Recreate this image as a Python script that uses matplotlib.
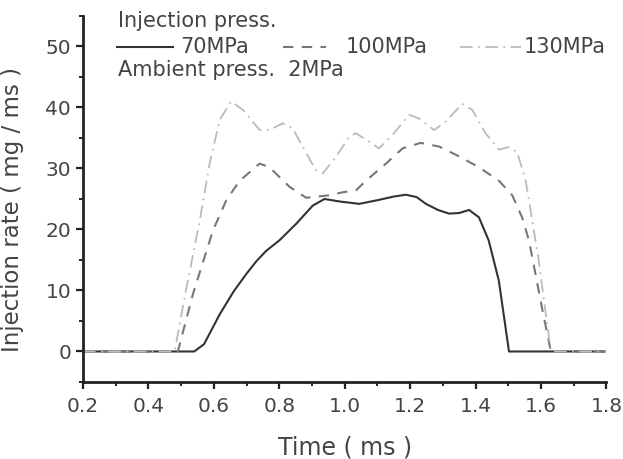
import matplotlib.pyplot as plt
import numpy as np
from matplotlib.ticker import MultipleLocator, FormatStrFormatter

plt.rcParams['font.family'] = ['DejaVu Sans']

# 70MPa (solid)
t70 = [0.2, 0.54, 0.57, 0.618, 0.66, 0.699, 0.73, 0.76, 0.80, 0.851, 0.902, 0.938, 0.983, 1.044, 1.10,
       1.15, 1.187, 1.22, 1.248, 1.285, 1.319, 1.35, 1.38, 1.41, 1.44, 1.471, 1.502, 1.8]
r70 = [0, 0, 1.2, 6.1, 9.8, 12.7, 14.8, 16.5, 18.2, 20.9, 23.9, 25.0, 24.6, 24.2, 24.8,
       25.4, 25.7, 25.3, 24.2, 23.2, 22.6, 22.7, 23.2, 22.0, 18.2, 11.6, 0.0, 0]

# 100MPa (dashed)
t100 = [0.2, 0.49, 0.536, 0.597, 0.638, 0.679, 0.74, 0.77, 0.831, 0.882, 0.953, 0.994, 1.034, 1.065,
        1.126, 1.177, 1.232, 1.288, 1.349, 1.41, 1.471, 1.512, 1.542, 1.563, 1.583, 1.603, 1.63, 1.8]
r100 = [0, 0, 9.4, 19.8, 24.8, 28.0, 30.8, 30.2, 27.0, 25.2, 25.6, 26.1, 26.4, 28.0,
        30.8, 33.3, 34.2, 33.6, 32.0, 30.2, 28.0, 25.6, 22.0, 18.2, 12.7, 7.1, 0, 0]

# 130MPa (dash-dot)
t130 = [0.2, 0.48, 0.516, 0.557, 0.587, 0.618, 0.653, 0.689, 0.74, 0.77, 0.81, 0.841, 0.872, 0.912,
        0.933, 0.973, 1.014, 1.034, 1.105, 1.146, 1.197, 1.227, 1.273, 1.309, 1.359, 1.39, 1.43,
        1.471, 1.502, 1.527, 1.553, 1.573, 1.593, 1.608, 1.63, 1.8]
r130 = [0, 0, 10.4, 21.5, 30.8, 38.0, 41.0, 39.6, 36.3, 36.3, 37.4, 36.6, 33.5, 29.7,
        29.2, 31.9, 35.2, 35.8, 33.3, 35.5, 38.8, 38.2, 36.3, 37.7, 40.6, 39.6, 35.8,
        33.1, 33.5, 32.7, 28.0, 21.5, 14.9, 8.8, 0, 0]

txt = '#444444'
fig = plt.figure(figsize=(6.23, 4.59), dpi=100)
ax = fig.add_axes([0.1332, 0.1678, 0.8403, 0.7974])

ax.plot(t70, r70, color='#333333', lw=1.5, ls='-')
ax.plot(t100, r100, color='#777777', lw=1.5, ls=(0, (5, 4)))
ax.plot(t130, r130, color='#bbbbbb', lw=1.3, ls=(0, (7, 3, 1, 3)))

ax.set_xlim(0.2, 1.8)
ax.set_ylim(-5, 55)
ax.xaxis.set_major_locator(MultipleLocator(0.2))
ax.xaxis.set_minor_locator(MultipleLocator(0.1))
ax.xaxis.set_major_formatter(FormatStrFormatter('%.1f'))
ax.set_yticks([0, 10, 20, 30, 40, 50])
ax.yaxis.set_minor_locator(MultipleLocator(5))

for s in ['top', 'right']:
    ax.spines[s].set_visible(False)
for s in ['left', 'bottom']:
    ax.spines[s].set_linewidth(2)
    ax.spines[s].set_color('#222222')

ax.tick_params(which='major', direction='out', length=5, width=1.6, colors='#222222',
               labelsize=14.5, labelcolor=txt)
ax.tick_params(axis='x', which='major', pad=6)
ax.tick_params(which='minor', direction='out', length=3, width=1.4, colors='#222222')

ax.set_xlabel('Time ( ms )', fontsize=17, color=txt, labelpad=14)
ax.set_ylabel('Injection rate ( mg / ms )', fontsize=16.5, color=txt)
ax.yaxis.set_label_coords(-0.113, 0.47)

# legend drawn as text and short line samples
ax.text(0.067, 0.971, 'Injection press.', transform=ax.transAxes, fontsize=15,
        color=txt, va='baseline', ha='left')
ax.plot([0.065, 0.172], [0.916, 0.916], transform=ax.transAxes, color='#333333', lw=1.5,
        clip_on=False)
ax.text(0.185, 0.900, '70MPa', transform=ax.transAxes, fontsize=15, color=txt, va='baseline')
ax.plot([0.382, 0.464], [0.916, 0.916], transform=ax.transAxes, color='#777777', lw=1.5,
        ls=(0, (5, 4)), clip_on=False)
ax.text(0.502, 0.900, '100MPa', transform=ax.transAxes, fontsize=15, color=txt, va='baseline')
ax.plot([0.720, 0.837], [0.916, 0.916], transform=ax.transAxes, color='#bbbbbb', lw=1.3,
        ls=(0, (7, 3, 1, 3)), clip_on=False)
ax.text(0.842, 0.900, '130MPa', transform=ax.transAxes, fontsize=15, color=txt, va='baseline',
        clip_on=False)
ax.text(0.067, 0.836, 'Ambient press.  2MPa', transform=ax.transAxes, fontsize=15,
        color=txt, va='baseline', ha='left')

fig.savefig('out.png', dpi=100)
